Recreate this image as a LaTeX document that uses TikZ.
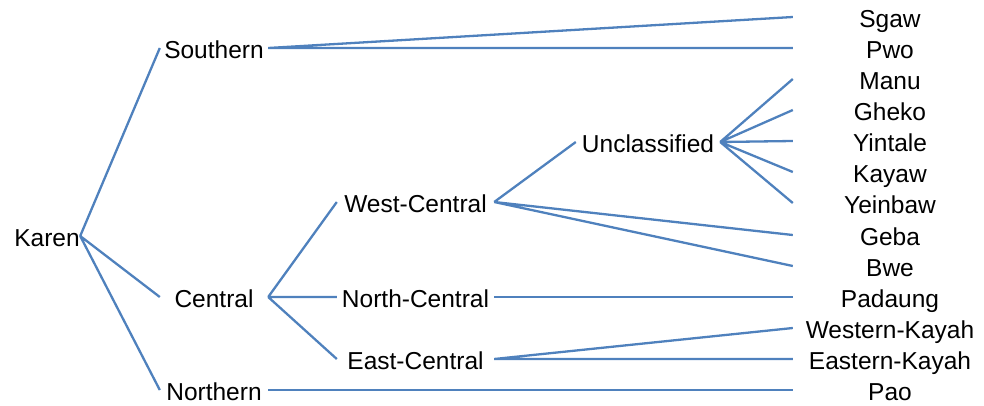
\documentclass[tikz,border=0pt]{standalone}
\usepackage{fontspec}
\setmainfont{Liberation Sans}
\usepackage{tikz}
\definecolor{branchblue}{RGB}{79,129,189}

\begin{document}
\begin{tikzpicture}[x=1pt,y=-1pt,
  every node/.style={inner sep=0pt,text height=21pt,text depth=0pt,font=\fontsize{24.5}{26}\selectfont},
  lvl0/.style={minimum width=66pt}, lvl1/.style={minimum width=108pt},
  lvl2/.style={minimum width=157pt}, lvl3/.style={minimum width=144pt},
  leaf/.style={minimum width=194pt}, branch/.style={draw=branchblue,line width=2.3pt}]
\useasboundingbox (0,0) rectangle (984,405);
\node[lvl0] (karen) at (47,236) {Karen};
\node[lvl1] (southern) at (214,48) {Southern};
\node[lvl1] (central) at (214,297) {Central};
\node[lvl1] (northern) at (214,390) {Northern};
\node[lvl2] (westc) at (415.5,202) {West-Central};
\node[lvl2] (northc) at (415.5,297) {North-Central};
\node[lvl2] (eastc) at (415.5,359) {East-Central};
\node[lvl3] (uncl) at (648,142) {Unclassified};
\node[leaf] (sgaw) at (890,17) {Sgaw};
\node[leaf] (pwo) at (890,48) {Pwo};
\node[leaf] (manu) at (890,79) {Manu};
\node[leaf] (gheko) at (890,110) {Gheko};
\node[leaf] (yintale) at (890,141) {Yintale};
\node[leaf] (kayaw) at (890,172) {Kayaw};
\node[leaf] (yeinbaw) at (890,203) {Yeinbaw};
\node[leaf] (geba) at (890,235) {Geba};
\node[leaf] (bwe) at (890,266) {Bwe};
\node[leaf] (padaung) at (890,297) {Padaung};
\node[leaf] (wkayah) at (890,328) {Western-Kayah};
\node[leaf] (ekayah) at (890,359) {Eastern-Kayah};
\node[leaf] (pao) at (890,390) {Pao};
\draw[branch] (karen.east) -- (southern.west) (karen.east) -- (central.west) (karen.east) -- (northern.west);
\draw[branch] (southern.east) -- (sgaw.west) (southern.east) -- (pwo.west);
\draw[branch] (central.east) -- (westc.west) (central.east) -- (northc.west) (central.east) -- (eastc.west);
\draw[branch] (northern.east) -- (pao.west);
\draw[branch] (westc.east) -- (uncl.west) (westc.east) -- (geba.west) (westc.east) -- (bwe.west);
\draw[branch] (uncl.east) -- (manu.west) (uncl.east) -- (gheko.west) (uncl.east) -- (yintale.west) (uncl.east) -- (kayaw.west) (uncl.east) -- (yeinbaw.west);
\draw[branch] (northc.east) -- (padaung.west);
\draw[branch] (eastc.east) -- (wkayah.west) (eastc.east) -- (ekayah.west);
\end{tikzpicture}
\end{document}
